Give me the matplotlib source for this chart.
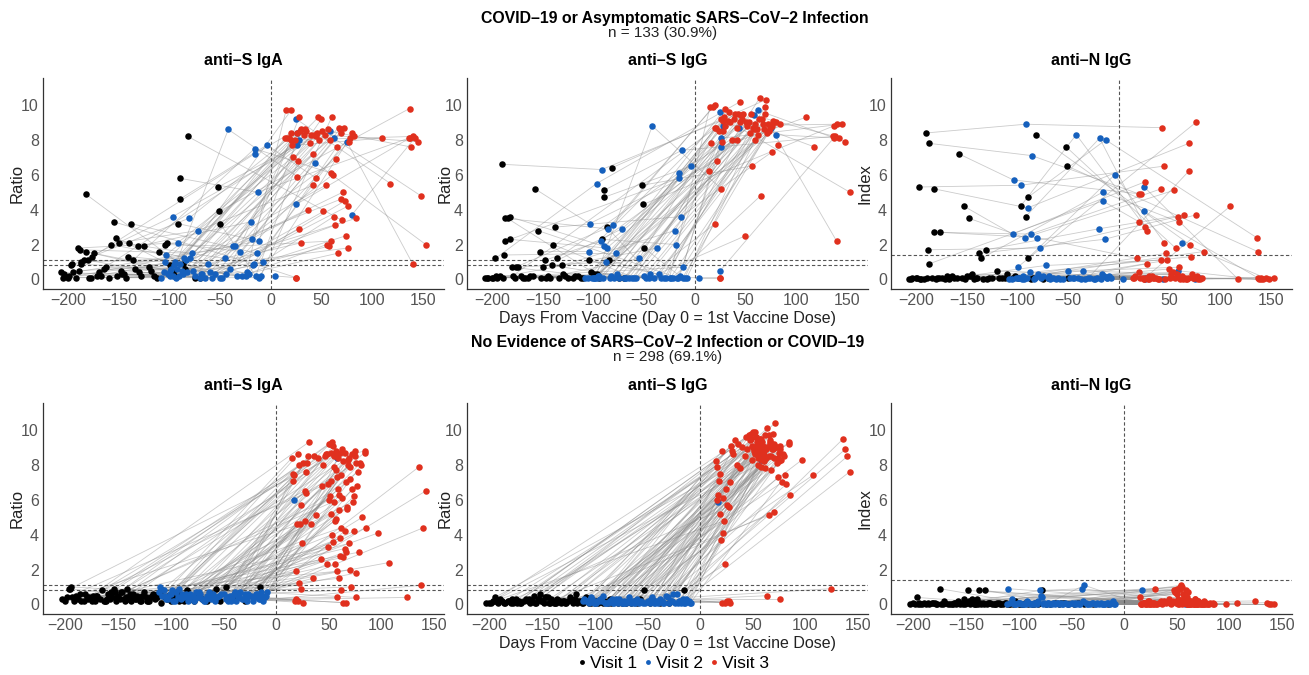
import numpy as np
import matplotlib.pyplot as plt
from matplotlib.lines import Line2D

nan = np.nan

# ---- top row: COVID-19 or asymptomatic infection (days shared by the 3 panels)
top_d1 = [-190, -187, -158, -197, -183, -153, -148, -183, -177, -188,
          -131, -138, -136, -187, -97, -92, -90, -90, -82, -52,
          -51, -207, -185, -175, -172, -150, -140, -130, -125, -105,
          -103, -85, -87, -155, -50, -200, -195, -180, -165, -145,
          -120, -115, -110, -100, -95, -75, -70, nan, nan, nan,
          nan, nan, nan, nan, nan, nan, nan, nan, nan, nan,
          -205, -199, -192, -178, -168, -160, -147, -143, -128, -112,
          -204, -196, -189, -181, -170, -163, -152, -141, -134, -118]
top_d2 = [-92, -86, -104, -97, -90, -105, -93, -87, -81, -78,
          -20, -14, -16, -16, -42, -19, -13, -4, nan, nan,
          nan, -100, -95, -88, -80, -72, -60, -55, -45, -35,
          -30, -25, -44, -17, -15, -12, -37, nan, -65, -28,
          -10, -8, -22, -33, -50, -18, -12, nan, 25, 4,
          25, 28, 26, 26, 58, 62, 44, 75, 80, -100,
          -108, -102, -97, -94, -83, -75, -70, -68, -58, -48,
          -106, -99, -96, -91, -84, -77, -69, -62, -40, -24]
top_d3 = [43, 20, 22, 45, 69, 26, 54, 42, 18, 58,
          64, 76, 59, 20, 26, 28, 136, 45, 70, 56,
          137, 84, 47, 71, 14, 42, 48, 28, 50, 59,
          69, 15, 20, 25, 27, 30, 35, 40, 52, 55,
          60, 62, 65, 66, 72, 74, 78, 82, 118, 25,
          137, 140, 145, 110, 138, 148, 153, 140, 142, 76,
          24, 30, 33, 37, 46, 51, 57, 63, 68, 77,
          16, 21, 29, 34, 39, 53, 61, 67, 73, 80]

top_iga1 = [1.8, 1.0, 2.0, 0.8, 4.9, 2.4, 0.5, 1.6, 1.3, 1.7,
            1.9, 3.2, 1.1, 0.9, 0.4, 3.2, 5.8, 4.6, 8.2, 5.3,
            3.9, 0.4, 1.1, 1.5, 0.2, 2.1, 2.1, 0.4, 1.9, 2.0,
            2.1, 0.6, 0.9, 3.3, 3.2, 0.1, 0.4, 0.1, 0.6, 0.3,
            0.7, 0.2, 1.6, 0.8, 0.2, 0.1, 0.1, nan, nan, nan,
            nan, nan, nan, nan, nan, nan, nan, nan, nan, nan,
            0.1, 0.2, 0.1, 0.1, 0.2, 0.1, 0.3, 0.1, 0.2, 0.1,
            0.3, 0.9, 0.5, 1.1, 0.4, 0.7, 0.2, 1.3, 0.6, 0.5]
top_iga2 = [2.1, 1.2, 1.4, 3.6, 0.9, 1.0, 0.6, 0.3, 3.5, 1.5,
            3.3, 1.5, 7.5, 7.2, 8.6, 2.3, 5.0, 7.7, nan, nan,
            nan, 0.2, 1.0, 0.5, 1.2, 2.8, 0.4, 0.3, 1.2, 1.9,
            1.6, 0.2, 0.3, 0.9, 0.2, 2.2, 1.9, nan, 0.1, 0.2,
            0.2, 1.0, 0.3, 0.2, 0.1, 0.8, 0.1, nan, 9.2, 0.2,
            4.3, 8.0, 8.4, 7.7, 8.5, 8.1, 6.7, 7.9, 3.7, 0.5,
            0.1, 0.3, 0.2, 0.1, 0.4, 0.2, 0.1, 0.3, 0.1, 0.1,
            0.4, 0.6, 0.8, 0.2, 1.1, 0.5, 0.3, 0.9, 0.6, 0.4]
top_iga3 = [8.3, 9.7, 7.0, 8.2, 4.6, 8.4, 5.4, 7.2, 8.1, 8.0,
            6.9, 4.2, 6.1, 8.4, 5.9, 9.3, 8.1, 5.8, 3.4, 8.6,
            9.8, 3.5, 9.3, 5.0, 8.1, 5.4, 8.0, 2.9, 9.2, 2.2,
            8.4, 9.7, 8.0, 0.1, 6.8, 8.6, 8.5, 8.3, 3.9, 2.0,
            9.3, 3.6, 7.6, 1.5, 8.7, 2.5, 8.1, 8.2, 5.5, 0.1,
            8.1, 8.2, 7.9, 8.1, 7.6, 4.8, 2.0, 0.9, 8.1, 1.8,
            8.0, 2.1, 8.3, 4.0, 8.4, 8.5, 1.9, 3.1, 8.6, 7.9,
            8.1, 7.7, 8.5, 8.6, 7.8, 8.3, 6.0, 8.7, 4.5, 8.4]

top_igg1 = [6.6, 3.5, 5.2, 1.2, 3.6, 1.6, 1.1, 2.3, 0.7, 1.4,
            0.8, 3.0, 1.2, 2.2, 0.3, 2.3, 5.1, 4.7, 6.4, 5.4,
            4.3, 0.1, 3.5, 0.7, 0.2, 0.7, 2.0, 0.3, 0.1, 1.1,
            0.4, 1.1, 3.0, 2.8, 1.8, 0.1, 0.1, 0.2, 0.1, 0.2,
            0.1, 0.2, 0.1, 0.3, 0.1, 0.1, 0.1, nan, nan, nan,
            nan, nan, nan, nan, nan, nan, nan, nan, nan, nan,
            0.1, 0.1, 0.2, 0.1, 0.1, 0.2, 0.1, 0.1, 0.2, 0.1,
            0.1, 0.2, 0.1, 0.7, 0.1, 0.2, 0.1, 0.8, 0.1, 0.2]
top_igg2 = [6.3, 2.9, 3.2, 5.5, 1.9, 1.6, 2.2, 1.8, 3.1, 1.5,
            2.8, 3.6, 6.1, 5.8, 8.8, 2.0, 7.4, 6.5, nan, nan,
            nan, 0.1, 0.2, 1.0, 0.1, 2.9, 0.1, 1.2, 0.1, 0.3,
            0.1, 0.1, 0.3, 0.1, 0.2, 0.7, 1.8, nan, 0.1, 0.1,
            0.1, 0.1, 0.1, 0.1, 0.2, 0.1, 0.1, nan, 9.6, 0.1,
            0.5, 8.8, 8.1, 7.6, 9.4, 9.7, 8.7, 8.7, 8.3, 0.1,
            0.1, 0.1, 0.1, 0.1, 0.2, 0.1, 0.1, 0.1, 0.1, 0.1,
            0.1, 0.1, 0.2, 0.1, 0.1, 0.3, 0.1, 0.1, 0.1, 0.1]
top_igg3 = [9.5, 10.0, 6.8, 10.2, 9.5, 9.2, 8.4, 8.0, 9.9, 8.6,
            10.4, 7.3, 8.9, 8.7, 5.2, 8.5, 8.2, 9.0, 10.3, 6.5,
            8.8, 8.9, 9.2, 8.4, 6.2, 8.7, 9.5, 9.1, 2.5, 8.0,
            9.9, 9.9, 3.2, 0.1, 7.9, 8.8, 9.0, 9.5, 8.8, 9.5,
            8.6, 8.3, 4.8, 9.2, 8.9, 8.7, 9.0, 7.7, 7.6, 0.1,
            8.1, 8.9, 8.9, 9.3, 8.2, 7.9, 5.0, 2.2, 8.1, 8.8,
            8.5, 9.8, 9.1, 8.0, 9.4, 9.0, 8.7, 9.2, 8.6, 9.1,
            7.8, 8.7, 9.3, 9.6, 9.2, 9.0, 8.6, 8.9, 8.5, 9.0]

top_n1 = [8.4, 7.8, 7.2, 5.3, 5.2, 4.2, 3.5, 2.7, 2.7, 1.7,
          1.7, 1.5, 1.2, 0.9, 4.2, 3.6, 4.7, 1.2, 8.3, 7.6,
          6.5, 0.0, 0.1, 0.1, 0.0, 0.2, 0.1, 0.0, 0.1, 0.1,
          0.2, 0.1, 0.0, 0.1, 0.1, 0.1, 0.0, 0.1, 0.2, 0.3,
          0.5, 0.1, 0.3, 0.1, 0.1, 0.0, 0.1, nan, nan, nan,
          nan, nan, nan, nan, nan, nan, nan, nan, nan, nan,
          0.0, 0.1, 0.0, 0.1, 0.0, 0.1, 0.2, 0.0, 0.1, 0.1,
          0.1, 0.0, 0.1, 0.0, 0.2, 0.1, 0.0, 0.1, 0.0, 0.1]
top_n2 = [8.9, 7.1, 5.7, 5.4, 4.1, 2.6, 2.4, 2.6, 2.4, 1.8,
          2.9, 2.3, 5.0, 4.5, 8.3, 8.1, 8.0, 6.0, nan, nan,
          nan, 0.1, 0.2, 0.4, 0.3, 0.8, 0.1, 0.0, 0.1, 0.5,
          0.1, 0.0, 0.1, 0.3, 0.2, 0.1, 0.0, nan, 0.1, 0.1,
          0.2, 0.1, 0.1, 0.0, 0.5, 0.0, 0.1, nan, 5.3, 0.0,
          3.9, 0.1, 0.0, 0.1, 0.5, 2.1, 0.0, 0.0, 0.1, 0.7,
          0.0, 0.1, 0.1, 0.0, 0.1, 0.2, 0.1, 0.0, 0.0, 0.1,
          0.0, 0.1, 0.0, 0.1, 0.0, 0.1, 0.2, 0.0, 0.1, 0.0]
top_n3 = [8.7, 4.9, 4.9, 6.5, 7.8, 5.6, 5.1, 5.2, 1.2, 3.6,
          3.7, 3.7, 3.3, 3.3, 3.0, 2.8, 2.4, 2.1, 2.0, 1.8,
          1.6, 1.6, 1.5, 1.3, 0.1, 1.1, 1.1, 0.9, 0.6, 0.7,
          6.2, 0.1, 0.4, 0.0, 0.1, 0.2, 0.1, 0.0, 0.3, 0.1,
          0.0, 0.2, 0.1, 0.0, 0.3, 0.1, 0.0, 0.1, 0.0, 0.0,
          0.1, 0.0, 0.1, 4.2, 0.0, 0.0, 0.1, 0.1, 0.0, 9.0,
          0.1, 0.0, 0.2, 0.1, 0.0, 0.1, 0.3, 0.0, 0.1, 0.2,
          0.2, 0.1, 0.0, 0.1, 0.0, 0.4, 0.1, 0.0, 0.1, 0.0]

# ---- bottom row: no evidence of infection
bot_d1 = [-203, -197, -195, -192, -190, -188, -185, -182, -178, -175,
          -172, -170, -167, -165, -162, -160, -158, -156, -154, -152,
          -150, -148, -146, -144, -142, -140, -138, -136, -134, -132,
          -130, -128, -126, -124, -121, -118, -115, -112, -109, -106,
          -103, -100, -97, -94, -91, -88, -85, -82, -78, -74,
          -70, -66, -62, -57, -53, -48, -44, -38, -30, -15,
          -196, -180, -163, -147, -141, -137, -122, -119, nan, nan,
          nan, nan, nan, nan, nan, nan, nan, nan, nan, nan,
          nan, nan, nan, nan, nan, nan, nan, nan, nan, nan,
          -201, -194, -186, -179, -171, -164, -157, -151, -145, -139,
          -133, -127, -123, -117, -113, -108, -104, -99, -92, -86,
          -199, -183, -174, -161, -153, -143, -129, -111, -96, -60]
bot_d2 = [-108, -105, nan, -100, nan, -96, nan, -92, nan, -88,
          nan, -86, nan, -83, nan, -80, -78, nan, -76, nan,
          -74, nan, -72, nan, -70, -68, nan, -66, nan, -64,
          nan, -62, nan, -60, -58, nan, -56, nan, -54, nan,
          -50, nan, -48, -46, nan, -44, -42, nan, -40, -38,
          nan, -36, nan, -34, nan, nan, nan, nan, nan, nan,
          nan, -32, nan, -30, nan, -28, nan, -26, -110, -107,
          -104, -101, -98, -95, -90, -86, -82, -77, -72, -69,
          -24, -22, -20, -18, -16, -14, -12, -10, 17, 58,
          -111, -106, -103, -99, -93, -89, -84, -79, -73, -67,
          -63, -59, -52, -47, -43, -39, -35, -31, -27, -21,
          nan, nan, nan, nan, nan, -19, -15, -13, -11, -9]
bot_d3 = [15, 17, 19, 21, 23, 25, 27, 29, 31, 33,
          36, 38, 40, 43, 45, 47, 49, 50, 52, 53,
          54, 55, 56, 57, 58, 59, 60, 61, 62, 63,
          64, 65, 66, 67, 68, 69, 70, 71, 72, 73,
          74, 75, 76, 77, 78, 80, 82, 84, 85, 16,
          18, 20, 22, 24, 26, 28, 30, 35, 48, 52,
          55, 57, 60, 62, 65, 68, 70, 74, 76, 79,
          24, 26, 28, 51, 56, 61, 64, 97, 107, 124,
          136, 138, 140, 142, 21, 27, 59, 66, 76, 84,
          16, 19, 22, 46, 50, 53, 57, 60, 63, 66,
          48, 51, 54, 56, 58, 61, 64, 67, 70, 75,
          44, 49, 52, 55, 58, 62, 65, 69, 72, 81]

bot_iga1 = [0.3, 0.9, 1.0, 0.2, 0.5, 0.3, 0.2, 0.6, 0.4, 0.2,
            0.2, 0.5, 0.3, 0.8, 0.2, 0.6, 0.3, 0.4, 0.9, 0.2,
            0.5, 0.3, 0.7, 0.2, 0.9, 0.4, 0.2, 0.6, 0.3, 0.5,
            0.3, 0.2, 0.7, 0.4, 0.2, 0.5, 0.3, 0.6, 0.1, 0.4,
            0.5, 0.2, 0.3, 0.7, 0.4, 0.2, 0.8, 0.3, 0.2, 0.5,
            0.3, 0.2, 0.6, 0.9, 0.2, 1.0, 0.4, 0.3, 0.2, 1.0,
            0.9, 0.4, 0.2, 0.7, 0.3, 0.5, 0.2, 0.4, nan, nan,
            nan, nan, nan, nan, nan, nan, nan, nan, nan, nan,
            nan, nan, nan, nan, nan, nan, nan, nan, nan, nan,
            0.2, 0.4, 0.6, 0.3, 0.5, 0.2, 0.7, 0.4, 0.3, 0.6,
            0.3, 0.5, 0.2, 0.6, 0.4, 0.8, 0.3, 0.5, 0.2, 0.6,
            0.4, 0.2, 0.5, 0.3, 0.7, 0.4, 0.2, 0.6, 0.3, 0.5]
bot_iga2 = [0.5, 0.3, nan, 0.6, nan, 0.2, nan, 0.9, nan, 0.4,
            nan, 0.6, nan, 0.3, nan, 0.5, 0.2, nan, 0.7, nan,
            0.4, nan, 0.6, nan, 0.3, 0.2, nan, 0.5, nan, 0.7,
            nan, 0.3, nan, 0.6, 0.2, nan, 0.4, nan, 0.5, nan,
            0.6, nan, 0.3, 0.2, nan, 0.5, 0.4, nan, 0.6, 0.2,
            nan, 0.4, nan, 0.7, nan, nan, nan, nan, nan, nan,
            nan, 0.3, nan, 0.6, nan, 0.2, nan, 0.5, 1.0, 0.8,
            0.4, 0.6, 0.2, 0.7, 0.3, 0.5, 0.6, 0.3, 0.4, 0.2,
            0.5, 0.2, 0.4, 0.6, 0.3, 0.7, 0.2, 0.5, 6.0, 8.4,
            0.7, 0.5, 0.3, 0.8, 0.4, 0.6, 0.2, 0.5, 0.7, 0.3,
            0.5, 0.3, 0.6, 0.4, 0.2, 0.7, 0.5, 0.3, 0.6, 0.4,
            nan, nan, nan, nan, nan, 0.6, 0.3, 0.5, 0.4, 0.7]
bot_iga3 = [8.4, 7.4, 0.3, 8.6, 4.6, 3.5, 6.5, 8.1, 9.3, 4.6,
            8.5, 5.1, 8.4, 2.6, 8.0, 8.6, 6.9, 9.2, 5.2, 9.3,
            3.6, 7.9, 2.3, 8.8, 0.4, 6.6, 1.5, 8.7, 4.4, 6.1,
            2.7, 8.7, 0.1, 5.5, 8.3, 3.5, 7.2, 1.0, 8.6, 5.9,
            4.2, 8.8, 1.8, 6.8, 7.6, 8.1, 5.0, 8.7, 4.4, 7.5,
            0.2, 4.6, 1.2, 5.7, 8.1, 6.4, 8.5, 1.5, 2.3, 7.1,
            8.5, 4.9, 6.3, 0.8, 3.2, 8.0, 2.0, 6.2, 0.4, 3.0,
            0.9, 0.1, 7.6, 9.2, 8.6, 3.8, 0.1, 4.1, 2.4, 0.4,
            7.9, 1.1, 4.4, 6.5, 0.2, 4.8, 8.4, 7.0, 8.1, 8.8,
            7.1, 1.9, 8.0, 8.5, 6.0, 4.0, 7.7, 5.4, 8.9, 3.0,
            8.6, 6.2, 9.1, 4.8, 7.3, 2.8, 8.2, 5.6, 7.9, 8.5,
            6.8, 3.3, 8.7, 5.9, 1.9, 7.4, 4.2, 8.4, 6.6, 8.0]

bot_igg1 = [0.1, 0.2, 0.4, 0.1, 0.3, 0.2, 0.1, 0.2, 0.1, 0.3,
            0.2, 0.1, 0.2, 0.3, 0.1, 0.2, 0.5, 0.1, 0.3, 0.6,
            0.2, 0.1, 0.4, 0.1, 0.3, 0.2, 0.1, 0.3, 0.2, 0.1,
            0.2, 0.1, 0.2, 0.4, 0.1, 0.6, 0.2, 0.1, 0.3, 0.1,
            0.2, 0.1, 0.1, 0.3, 0.2, 0.1, 0.1, 0.2, 0.1, 0.1,
            0.1, 0.1, 0.2, 0.3, 0.8, 0.1, 0.2, 0.1, 0.1, 0.8,
            0.2, 0.1, 0.3, 0.4, 0.2, 0.1, 0.2, 0.3, nan, nan,
            nan, nan, nan, nan, nan, nan, nan, nan, nan, nan,
            nan, nan, nan, nan, nan, nan, nan, nan, nan, nan,
            0.1, 0.2, 0.1, 0.3, 0.1, 0.2, 0.1, 0.2, 0.4, 0.1,
            0.2, 0.1, 0.3, 0.1, 0.2, 0.4, 0.1, 0.2, 0.1, 0.3,
            0.1, 0.2, 0.1, 0.2, 0.3, 0.1, 0.2, 0.1, 0.2, 0.1]
bot_igg2 = [0.2, 0.3, nan, 0.1, nan, 0.2, nan, 0.5, nan, 0.1,
            nan, 0.2, nan, 0.1, nan, 0.3, 0.1, nan, 0.2, nan,
            0.1, nan, 0.2, nan, 0.1, 0.4, nan, 0.1, nan, 0.2,
            nan, 0.1, nan, 0.3, 0.1, nan, 0.2, nan, 0.1, nan,
            0.2, nan, 0.1, 0.4, nan, 0.1, 0.2, nan, 0.1, 0.3,
            nan, 0.2, nan, 0.1, nan, nan, nan, nan, nan, nan,
            nan, 0.5, nan, 0.1, nan, 0.2, nan, 0.6, 0.3, 0.2,
            0.4, 0.1, 0.2, 0.3, 0.1, 0.2, 0.1, 0.3, 0.1, 0.2,
            0.1, 0.6, 0.2, 0.1, 0.3, 0.1, 0.2, 0.1, 5.9, 8.3,
            0.2, 0.1, 0.3, 0.1, 0.2, 0.1, 0.3, 0.2, 0.1, 0.2,
            0.1, 0.2, 0.1, 0.3, 0.1, 0.2, 0.1, 0.4, 0.2, 0.1,
            nan, nan, nan, nan, nan, 0.2, 0.1, 0.3, 0.2, 0.1]
bot_igg3 = [8.2, 6.3, 7.5, 8.8, 4.8, 6.6, 5.6, 9.1, 8.6, 9.4,
            9.2, 7.8, 9.0, 8.5, 8.9, 9.4, 8.3, 9.9, 8.7, 9.6,
            9.1, 8.4, 8.8, 9.5, 7.9, 9.3, 8.6, 8.2, 9.7, 8.9,
            10.1, 8.5, 9.2, 7.7, 8.9, 9.8, 8.4, 10.4, 9.0, 8.1,
            7.3, 8.7, 9.1, 8.3, 7.0, 8.5, 6.9, 9.3, 6.3, 6.0,
            7.1, 3.7, 4.1, 2.3, 5.7, 7.0, 8.8, 8.0, 9.5, 8.6,
            8.0, 9.0, 8.7, 7.8, 5.1, 9.2, 5.3, 8.4, 0.3, 8.6,
            0.1, 0.2, 0.1, 8.8, 9.0, 8.5, 0.5, 8.3, 7.4, 0.9,
            9.5, 8.9, 8.5, 7.6, 0.1, 0.2, 8.3, 9.3, 8.9, 9.2,
            7.9, 5.2, 6.1, 9.7, 9.0, 9.6, 8.7, 9.1, 8.4, 9.4,
            9.8, 8.9, 9.3, 8.6, 9.5, 8.8, 9.0, 8.5, 9.2, 8.2,
            9.6, 9.1, 9.9, 8.7, 9.3, 8.4, 9.7, 8.9, 9.0, 7.4]

bot_n1 = [0.0, 0.4, 0.1, 0.0, 0.1, 0.0, 0.0, 0.1, 0.0, 0.9,
          0.0, 0.1, 0.0, 0.0, 0.1, 0.0, 0.2, 0.0, 0.1, 0.3,
          0.1, 0.8, 0.0, 0.1, 0.0, 0.3, 0.8, 0.0, 0.1, 0.8,
          0.0, 0.1, 0.0, 0.0, 0.1, 0.0, 0.0, 0.1, 0.0, 0.0,
          0.1, 0.0, 0.0, 0.1, 0.0, 0.0, 0.1, 0.0, 0.8, 0.0,
          0.0, 0.1, 0.0, 0.1, 0.0, 0.0, 0.1, 0.0, 0.0, 0.0,
          0.0, 0.1, 0.0, 0.2, 0.0, 0.1, 0.0, 0.1, nan, nan,
          nan, nan, nan, nan, nan, nan, nan, nan, nan, nan,
          nan, nan, nan, nan, nan, nan, nan, nan, nan, nan,
          0.1, 0.0, 0.1, 0.0, 0.2, 0.0, 0.1, 0.0, 0.3, 0.0,
          0.0, 0.1, 0.0, 0.0, 0.1, 0.0, 0.2, 0.0, 0.1, 0.0,
          0.0, 0.1, 0.0, 0.1, 0.0, 0.0, 0.1, 0.0, 0.0, 0.1]
bot_n2 = [0.1, 0.0, nan, 0.1, nan, 0.0, nan, 0.2, nan, 0.0,
          nan, 0.1, nan, 0.0, nan, 0.8, 0.4, nan, 0.1, nan,
          0.0, nan, 0.1, nan, 0.0, 0.1, nan, 0.0, nan, 0.1,
          nan, 0.0, nan, 0.1, 0.0, nan, 0.1, nan, 0.0, nan,
          0.1, nan, 0.0, 0.0, nan, 0.1, 0.0, nan, 0.9, 1.1,
          nan, 0.1, nan, 0.0, nan, nan, nan, nan, nan, nan,
          nan, 0.0, nan, 0.1, nan, 0.0, nan, 0.1, 0.9, 0.3,
          0.0, 0.1, 0.0, 0.0, 0.1, 0.0, 0.2, 0.0, 0.1, 0.0,
          0.0, 0.1, 0.0, 0.0, 0.1, 0.0, 0.1, 0.0, 0.8, 0.0,
          0.0, 0.1, 0.0, 0.1, 0.0, 0.0, 0.1, 0.5, 0.0, 0.1,
          0.1, 0.0, 0.0, 0.1, 0.0, 0.2, 0.0, 0.1, 0.0, 0.0,
          nan, nan, nan, nan, nan, 0.0, 0.1, 0.0, 0.2, 0.0]
bot_n3 = [0.4, 0.0, 0.1, 0.0, 0.2, 0.0, 0.1, 0.9, 0.0, 0.1,
          0.0, 0.2, 0.1, 0.3, 0.0, 0.8, 0.1, 0.9, 0.2, 1.0,
          1.1, 0.0, 0.3, 0.1, 0.2, 0.8, 0.0, 0.7, 0.1, 0.2,
          0.0, 0.1, 0.0, 0.3, 0.1, 0.0, 0.2, 0.1, 0.0, 0.0,
          0.1, 0.0, 0.2, 0.0, 0.1, 0.0, 0.1, 0.0, 0.0, 0.0,
          0.1, 0.0, 0.1, 0.2, 0.0, 0.1, 0.0, 0.2, 0.7, 0.9,
          0.2, 0.1, 0.4, 0.0, 0.1, 0.0, 0.2, 0.0, 0.1, 0.0,
          0.0, 0.1, 0.0, 0.3, 0.1, 0.0, 0.0, 0.0, 0.1, 0.2,
          0.1, 0.0, 0.0, 0.0, 0.1, 0.0, 0.1, 0.0, 0.0, 0.1,
          0.0, 0.1, 0.0, 0.2, 0.6, 0.9, 0.1, 0.0, 0.2, 0.0,
          0.7, 0.0, 0.1, 0.6, 0.2, 0.0, 0.1, 0.3, 0.0, 0.1,
          0.1, 0.8, 0.0, 1.0, 0.2, 0.0, 0.1, 0.0, 0.1, 0.0]

visit_colors = ['#000000', '#1560bd', '#e0301e']
visit_labels = ['Visit 1', 'Visit 2', 'Visit 3']
panel_titles = ['anti\u2013S IgA', 'anti\u2013S IgG', 'anti\u2013N IgG']
ylabels = ['Ratio', 'Ratio', 'Index']
ylab_x = [-0.046, -0.035, -0.047]

plt.rcParams['font.family'] = ['Liberation Sans', 'DejaVu Sans']
tick_grey = '#555555'


def draw_panel(ax, d1, d2, d3, v1, v2, v3, cutoffs, xlim, title, ylab, labx):
    days = np.array([d1, d2, d3], dtype=float).T
    vals = np.array([v1, v2, v3], dtype=float).T
    for dd, vv in zip(days, vals):
        ok = ~np.isnan(dd)
        if ok.sum() > 1:
            ax.plot(dd[ok], vv[ok], color='#8c8c8c', lw=0.6, alpha=0.45, zorder=1)
    for c in cutoffs:
        ax.axhline(c, color='#555555', lw=0.8, ls=(0, (3, 2)), zorder=2)
    ax.axvline(0, color='#555555', lw=0.8, ls=(0, (3, 2)), zorder=2)
    for k in range(3):
        ax.scatter(days[:, k], vals[:, k], s=22, color=visit_colors[k],
                   linewidths=0, zorder=3)
    ax.set_xlim(*xlim)
    ax.set_ylim(-0.55, 11.55)
    ax.set_xticks(np.arange(-200, 151, 50))
    ax.set_yticks(np.arange(0, 11, 2))
    for s in ['top', 'right']:
        ax.spines[s].set_visible(False)
    for s in ['left', 'bottom']:
        ax.spines[s].set_color('#333333')
        ax.spines[s].set_linewidth(0.9)
    ax.tick_params(labelcolor=tick_grey, labelsize=11.5, length=0, pad=3)
    ax.set_title(title, fontsize=11.5, fontweight='bold', pad=9.5)
    ax.set_ylabel(ylab, fontsize=12, color='#222222')
    ax.yaxis.set_label_coords(labx, 0.5)


fig = plt.figure(figsize=(13.09, 6.75), dpi=100)
W, H = 1309.0, 675.0
lefts = [43, 467, 891]
aw = 401
xlab = 'Days From Vaccine (Day 0 = 1st Vaccine Dose)'

top_sets = [(top_iga1, top_iga2, top_iga3, [0.8, 1.1]),
            (top_igg1, top_igg2, top_igg3, [0.8, 1.1]),
            (top_n1, top_n2, top_n3, [1.4])]
bot_sets = [(bot_iga1, bot_iga2, bot_iga3, [0.8, 1.1]),
            (bot_igg1, bot_igg2, bot_igg3, [0.8, 1.1]),
            (bot_n1, bot_n2, bot_n3, [1.4])]

for i in range(3):
    ax = fig.add_axes([lefts[i] / W, 1 - 289 / H, aw / W, 211 / H])
    v1, v2, v3, cut = top_sets[i]
    draw_panel(ax, top_d1, top_d2, top_d3, v1, v2, v3, cut, (-225, 171),
               panel_titles[i], ylabels[i], ylab_x[i])
    if i == 1:
        ax.set_xlabel(xlab, fontsize=11.5, color='#222222', labelpad=2)

    ax = fig.add_axes([lefts[i] / W, 1 - 614 / H, aw / W, 211 / H])
    v1, v2, v3, cut = bot_sets[i]
    draw_panel(ax, bot_d1, bot_d2, bot_d3, v1, v2, v3, cut, (-221.5, 159.5),
               panel_titles[i], ylabels[i], ylab_x[i])
    if i == 1:
        ax.set_xlabel(xlab, fontsize=11.5, color='#222222', labelpad=2)

fig.text(675 / W, 1 - 18.5 / H, 'COVID\u201319 or Asymptomatic SARS\u2013CoV\u20132 Infection',
         ha='center', va='center', fontsize=11.4, fontweight='bold')
fig.text(663 / W, 1 - 32.5 / H, 'n = 133 (30.9%)', ha='center', va='center',
         fontsize=11, color='#222222')
fig.text(668 / W, 1 - 342 / H, 'No Evidence of SARS\u2013CoV\u20132 Infection or COVID\u201319',
         ha='center', va='center', fontsize=11.4, fontweight='bold')
fig.text(668 / W, 1 - 357 / H, 'n = 298 (69.1%)', ha='center', va='center',
         fontsize=11, color='#222222')

handles = [Line2D([], [], ls='', marker='o', markersize=3.5, color=c,
                  markeredgewidth=0) for c in visit_colors]
fig.legend(handles, visit_labels, loc='center', bbox_to_anchor=(674 / W, 1 - 663 / H),
           ncol=3, frameon=False, fontsize=12.5, handletextpad=0.25,
           columnspacing=0.45, handlelength=0.4)

fig.savefig('out.png', dpi=100)
